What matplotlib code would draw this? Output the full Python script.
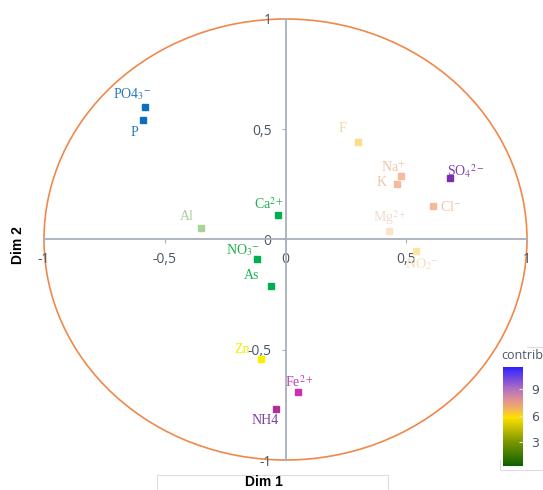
import matplotlib
matplotlib.use("Agg")
import matplotlib.pyplot as plt
from matplotlib.colors import LinearSegmentedColormap, Normalize
from matplotlib.patches import Circle, Rectangle
import matplotlib.cm as cm

plt.rcParams['mathtext.fontset'] = 'stix'

# variable coordinates on the first two dimensions
names = ["PO4$_3$$^{-}$", "P", "F", "Na$^{+}$", "K", "SO$_4$$^{2-}$", "Cl$^{-}$",
         "Mg$^{2+}$", "NO$_2$$^{-}$", "Ca$^{2+}$", "Al", "NO$_3$$^{-}$", "As",
         "Zn", "Fe$^{2+}$", "NH4"]
dim1 = [-0.58, -0.59, 0.30, 0.48, 0.46, 0.68, 0.61,
        0.43, 0.54, -0.03, -0.35, -0.12, -0.06,
        -0.10, 0.05, -0.04]
dim2 = [0.60, 0.54, 0.44, 0.29, 0.25, 0.28, 0.15,
        0.04, -0.05, 0.11, 0.05, -0.09, -0.21,
        -0.54, -0.69, -0.77]

tick_vals = [-1, -0.5, 0, 0.5, 1]
tick_labels = ["-1", "-0,5", "0", "0,5", "1"]
cbar_ticks = [3, 6, 9]

# marker / label colours and label offsets (pixels)
point_colors = ["#0a6fc2", "#0a6fc2", "#fddc88", "#f5bc9c", "#f5bc9c", "#7a2fb0", "#f5b898",
                "#fde4c8", "#fbe4a8", "#00b050", "#a8d498", "#00b050", "#00b050",
                "#f8f000", "#cc30b0", "#b0309a"]
label_colors = ["#2a78c0", "#2a78c0", "#f0d8a0", "#f0c4a8", "#f0c4a8", "#8040b0", "#f0c4a8",
                "#f0dcd0", "#f5e0b8", "#20b050", "#a8d098", "#20b050", "#20b050",
                "#eef000", "#c040b0", "#8040a0"]
offsets = [(-13, 13), (-9, -12), (-16, 14), (-8, 8), (-15, 2), (16, 7), (18, -1),
           (1, 13), (6, -14), (-9, 11), (-14, 12), (-14, 9), (-19, 10),
           (-19, 9), (2, 10), (-11, -11)]

fig = plt.figure(figsize=(5.43, 4.9), dpi=100)
ax = fig.add_axes([44 / 543, 30 / 490, 483 / 543, 441 / 490])
ax.set_xlim(-1, 1)
ax.set_ylim(-1, 1)

axis_col = "#a8b0bc"
for side in ["top", "right"]:
    ax.spines[side].set_visible(False)
for side in ["left", "bottom"]:
    ax.spines[side].set_position(("data", 0))
    ax.spines[side].set_color(axis_col)
    ax.spines[side].set_linewidth(1.3)

ax.set_xticks(tick_vals)
ax.set_xticklabels(tick_labels)
ax.set_yticks(tick_vals)
ax.set_yticklabels(tick_labels)
ax.tick_params(axis="x", length=3, color=axis_col, pad=6, labelsize=10, labelcolor="#4a5565")
ax.tick_params(axis="y", length=3, color=axis_col, pad=7, labelsize=10, labelcolor="#4a5565")
for lab in ax.get_xticklabels() + ax.get_yticklabels():
    lab.set_fontfamily("Open Sans")

ax.add_patch(Circle((0, 0), 1, fill=False, edgecolor="#f0884a", lw=1.2, clip_on=False))

for i in range(len(names)):
    ax.plot(dim1[i], dim2[i], marker="s", ms=4.8, color=point_colors[i],
            linestyle="none", zorder=4)
    ax.annotate(names[i], (dim1[i], dim2[i]), xytext=offsets[i],
                textcoords="offset pixels", ha="center", va="center",
                fontsize=10, family="Liberation Serif", color=label_colors[i])

# axis titles
fig.patches.append(Rectangle((157 / 543, -0.01), 231 / 543, 20 / 490,
                             transform=fig.transFigure, fill=False,
                             edgecolor="#dddddd", lw=0.8, zorder=-1))
fig.text(264 / 543, 1 - 482 / 490, "Dim 1", ha="center", va="center",
         fontsize=10, fontweight="bold", family="Liberation Sans")
fig.text(18 / 543, 1 - 245 / 490, "Dim 2", ha="center", va="center", rotation=90,
         fontsize=10, fontweight="bold", family="Liberation Sans")

# contribution colour scale
cmap = LinearSegmentedColormap.from_list("contrib", [
    (0.0, "#0c6000"), (0.24, "#7a9600"), (0.49, "#ffe000"), (0.58, "#f2b060"),
    (0.67, "#e09090"), (0.78, "#b070c0"), (1.0, "#3020ff")])
norm = Normalize(vmin=0.3, vmax=11.5)
fig.patches.append(Rectangle((500 / 543, 20 / 490), 50 / 543, 123 / 490,
                             transform=fig.transFigure, facecolor="white",
                             edgecolor="#dddddd", lw=0.8, zorder=-1))
cax = fig.add_axes([503 / 543, 24 / 490, 20 / 543, 99 / 490])
cb = fig.colorbar(cm.ScalarMappable(norm=norm, cmap=cmap), cax=cax, ticks=cbar_ticks)
cb.outline.set_visible(False)
cax.tick_params(length=3, color="#dddddd", direction="in", labelsize=9,
                labelcolor="#4a5565", pad=6)
fig.text(522 / 543, 1 - 355 / 490, "contrib", ha="center", va="center",
         fontsize=9, color="#4a5565", family="Open Sans")

fig.savefig("out.png", dpi=100)
